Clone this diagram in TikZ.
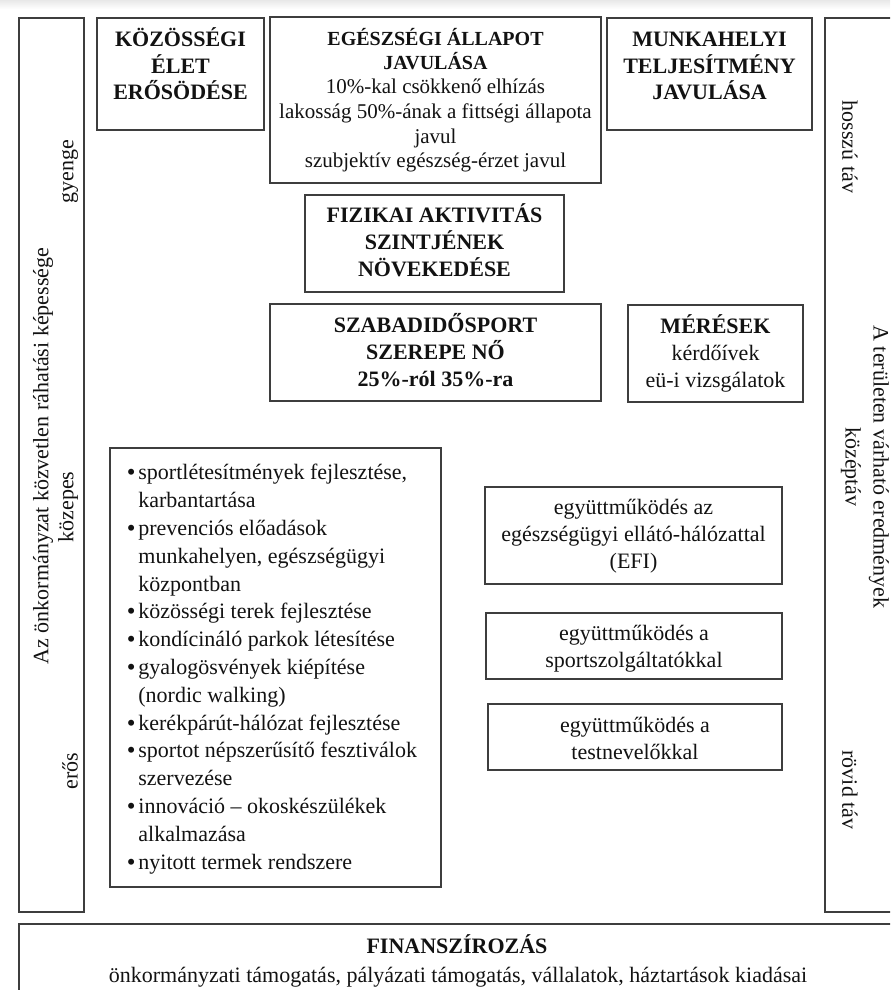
\documentclass[tikz,border=0pt]{standalone}
\usepackage{fontspec}
\setmainfont{Liberation Serif}
\usetikzlibrary{positioning}
\definecolor{framegray}{RGB}{62,62,62}
\definecolor{inkblack}{RGB}{18,18,18}
\newcommand\blt{\llap{\bfseries\textbullet\hspace{1.6pt}}}

\begin{document}
\begin{tikzpicture}[x=.5pt,y=-.5pt,
 frame/.style={draw=framegray,line width=.75pt},
 lbl/.style={inner sep=0pt,align=center,anchor=base,text=inkblack},
 head/.style={lbl,font=\bfseries\fontsize{11}{13.3}\selectfont},
 body/.style={lbl,font=\fontsize{11}{13.3}\selectfont},
 side/.style={inner sep=0pt,anchor=center,text=inkblack,font=\fontsize{11}{13.3}\selectfont}]
\useasboundingbox (0,0) rectangle (890,990);
\clip (0,0) rectangle (890,990);
\shade[top color=black!9,bottom color=white] (0,0) rectangle (890,9);
\draw[frame] (19,18) rectangle (84,912);
\draw[frame] (825,18) rectangle (910,912);
\draw[frame] (19,924) rectangle (910,1010);
\draw[frame] (97,18) rectangle (264,130);
\draw[frame] (270,17) rectangle (601,183);
\draw[frame] (607,18) rectangle (812,130);
\draw[frame] (305,195) rectangle (564,292);
\draw[frame] (270,304) rectangle (601,401);
\draw[frame] (628,305) rectangle (803,402);
\draw[frame] (110,448) rectangle (441,887);
\draw[frame] (485,487) rectangle (782,584);
\draw[frame] (486,613) rectangle (782,679);
\draw[frame] (488,704) rectangle (782,770);
\node[head] (kozossegi) at (180.5,100) {KÖZÖSSÉGI\\ÉLET\\ERŐSÖDÉSE};
\node[body,font=\fontsize{10.5}{12.25}\selectfont] (egeszseg) at (435.5,167.5)
 {{\bfseries\fontsize{10}{12.25}\selectfont EGÉSZSÉGI ÁLLAPOT}\\
  {\bfseries\fontsize{10}{12.25}\selectfont JAVULÁSA}\\
  10\%-kal csökkenő elhízás\\
  lakosság 50\%-ának a fittségi állapota\\
  javul\\
  szubjektív egészség-érzet javul};
\node[head] (munkahely) at (709.5,100) {MUNKAHELYI\\TELJESÍTMÉNY\\JAVULÁSA};
\node[head] (fizikai) at (434.5,276) {FIZIKAI AKTIVITÁS\\SZINTJÉNEK\\NÖVEKEDÉSE};
\node[head] (szabadido) at (435.5,386) {SZABADIDŐSPORT\\SZEREPE NŐ\\25\%-ról 35\%-ra};
\node[head] (meresek) at (715.5,387)
 {MÉRÉSEK\\{\mdseries kérdőívek}\\{\mdseries eü-i vizsgálatok}};
\node[body,align=left,anchor=base west,font=\fontsize{11}{13.9}\selectfont] (teendok) at (138,869)
 {\blt sportlétesítmények fejlesztése,\\
  karbantartása\\
  \blt prevenciós előadások\\
  munkahelyen, egészségügyi\\
  központban\\
  \blt közösségi terek fejlesztése\\
  \blt kondícináló parkok létesítése\\
  \blt gyalogösvények kiépítése\\
  (nordic walking)\\
  \blt kerékpárút-hálózat fejlesztése\\
  \blt sportot népszerűsítő fesztiválok\\
  szervezése\\
  \blt innováció – okoskészülékek\\
  alkalmazása\\
  \blt nyitott termek rendszere};
\node[body] (efi) at (633.5,568) {együttműködés az\\egészségügyi ellátó-hálózattal\\(EFI)};
\node[body] (sportszolg) at (634,667) {együttműködés a\\sportszolgáltatókkal};
\node[body] (testnev) at (635,759) {együttműködés a\\testnevelőkkal};
\node[head] (finansz) at (457,953) {FINANSZÍROZÁS};
\node[body] (forrasok) at (458,982)
 {önkormányzati támogatás, pályázati támogatás, vállalatok, háztartások kiadásai};
\node[side,rotate=90] (gyenge) at (70,172) {gyenge};
\node[side,rotate=90] (rahatas) at (43,456) {Az önkormányzat közvetlen ráhatási képessége};
\node[side,rotate=90] (kozepes) at (68,507) {közepes};
\node[side,rotate=90] (eros) at (70,771) {erős};
\node[side,rotate=-90] (hosszu) at (850,147) {hosszú táv};
\node[side,rotate=-90] (eredmenyek) at (879,467) {A területen várható eredmények};
\node[side,rotate=-90] (kozeptav) at (851,467) {középtáv};
\node[side,rotate=-90] (rovid) at (850,790) {rövid táv};
\end{tikzpicture}
\end{document}
